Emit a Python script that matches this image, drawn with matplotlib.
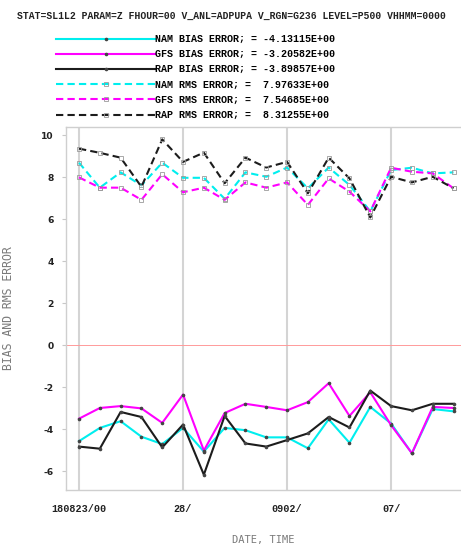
import matplotlib
matplotlib.use('Agg')
import matplotlib.pyplot as plt
import pandas as pd

# valid times (daily, 00Z) 2018-08-23 .. 2018-09-10
dates = pd.date_range('2018-08-23', '2018-09-10', freq='D')

nam_bias = [-4.57, -3.94, -3.62, -4.36, -4.71, -3.94, -5.07, -3.94, -4.05, -4.39,
            -4.39, -4.91, -3.53, -4.65, -2.94, -3.73, -5.15, -3.04, -3.15]
gfs_bias = [-3.50, -2.99, -2.90, -3.01, -3.70, -2.35, -5.02, -3.23, -2.79, -2.94,
            -3.10, -2.71, -1.81, -3.37, -2.24, -3.81, -5.15, -2.94, -2.99]
rap_bias = [-4.83, -4.93, -3.18, -3.42, -4.87, -3.78, -6.17, -3.37, -4.68, -4.83,
            -4.52, -4.20, -3.42, -3.92, -2.16, -2.90, -3.10, -2.79, -2.79]

nam_rms = [8.70, 7.51, 8.24, 7.62, 8.70, 7.98, 7.98, 6.98, 8.24, 8.03,
           8.47, 7.48, 8.47, 7.64, 6.38, 8.35, 8.46, 8.19, 8.24]
gfs_rms = [8.00, 7.51, 7.51, 6.93, 8.15, 7.29, 7.51, 6.93, 7.76, 7.51,
           7.76, 6.69, 7.95, 7.32, 6.38, 8.46, 8.27, 8.19, 7.48]
rap_rms = [9.37, 9.17, 8.94, 7.55, 9.81, 8.74, 9.18, 7.72, 8.94, 8.47,
           8.74, 7.24, 8.94, 7.95, 6.09, 8.03, 7.76, 8.03, 7.48]

labels = ['NAM BIAS ERROR; = -4.13115E+00',
          'GFS BIAS ERROR; = -3.20582E+00',
          'RAP BIAS ERROR; = -3.89857E+00',
          'NAM RMS ERROR; =  7.97633E+00',
          'GFS RMS ERROR; =  7.54685E+00',
          'RAP RMS ERROR; =  8.31255E+00']

tick_dates = pd.to_datetime(['2018-08-23', '2018-08-28', '2018-09-02', '2018-09-07'])
tick_labels = ['180823/00', '28/', '0902/', '07/']

title = 'STAT=SL1L2 PARAM=Z FHOUR=00 V_ANL=ADPUPA V_RGN=G236 LEVEL=P500 VHHMM=0000'

colors = ['#00eeee', '#ff00ff', '#1c1c1c']
mono = 'Liberation Mono'

fig = plt.figure(figsize=(4.61, 5.48), dpi=100)
ax = fig.add_axes([0.1432, 0.1058, 0.8568, 0.6624])

handles = []
for series, color in zip([nam_bias, gfs_bias, rap_bias], colors):
    line, = ax.plot(dates, series, color=color, lw=1.5, marker='o', ms=1.6,
                    mfc='#444444', mec='#444444', zorder=3)
    handles.append(line)
for series, color in zip([nam_rms, gfs_rms, rap_rms], colors):
    line, = ax.plot(dates, series, color=color, lw=1.5, linestyle=(0, (3.5, 2)),
                    marker='s', ms=2.6, mfc='none', mec='#9a9a9a', mew=0.6, zorder=3)
    handles.append(line)

ax.axhline(0, color='#ff9a9a', lw=0.7, zorder=2)

ax.set_xlim(dates[0] - pd.Timedelta(hours=15), dates[0] + pd.Timedelta(hours=18.36 * 24))
ax.set_ylim(-6.9, 10.4)

ax.set_xticks(tick_dates)
ax.set_xticklabels(tick_labels, fontfamily=mono, fontweight='bold', fontsize=7.3, color='#222222')
ax.set_yticks(range(-6, 11, 2))
ax.set_yticklabels([str(v) for v in range(-6, 11, 2)], fontfamily='DejaVu Sans',
                   fontweight='bold', fontsize=6.6, color='#222222')
ax.tick_params(axis='x', length=0, pad=10)
ax.tick_params(axis='y', length=3, width=0.8, color='#c8c8c8', pad=6)

ax.grid(axis='x', color='#d4d4d4', lw=1.5, zorder=1)
for side in ['left', 'top', 'bottom']:
    ax.spines[side].set_color('#cfcfcf')
    ax.spines[side].set_linewidth(1.0)
ax.spines['right'].set_visible(False)

ax.set_ylabel('BIAS AND RMS ERROR', fontfamily='DejaVu Sans Mono', fontsize=8.3, color='#7a7a7a')
ax.yaxis.set_label_coords(-0.13, 0.5)
ax.set_xlabel('DATE, TIME', fontfamily='DejaVu Sans Mono', fontsize=7.5, color='#7a7a7a')
ax.xaxis.set_label_coords(0.5, -0.125)

fig.text(0.503, 1 - 16 / 548, title, ha='center', va='center', fontfamily=mono,
         fontweight='bold', fontsize=7.0, color='#222222')

fig.legend(handles, labels, loc='upper left', bbox_to_anchor=(56 / 461, 1 - 34 / 548),
           frameon=False, prop={'family': mono, 'weight': 'bold', 'size': 7.2},
           handlelength=9.9, handletextpad=0.0, labelspacing=0.52, borderpad=0,
           borderaxespad=0, numpoints=1)

fig.savefig('out.png', dpi=100)
